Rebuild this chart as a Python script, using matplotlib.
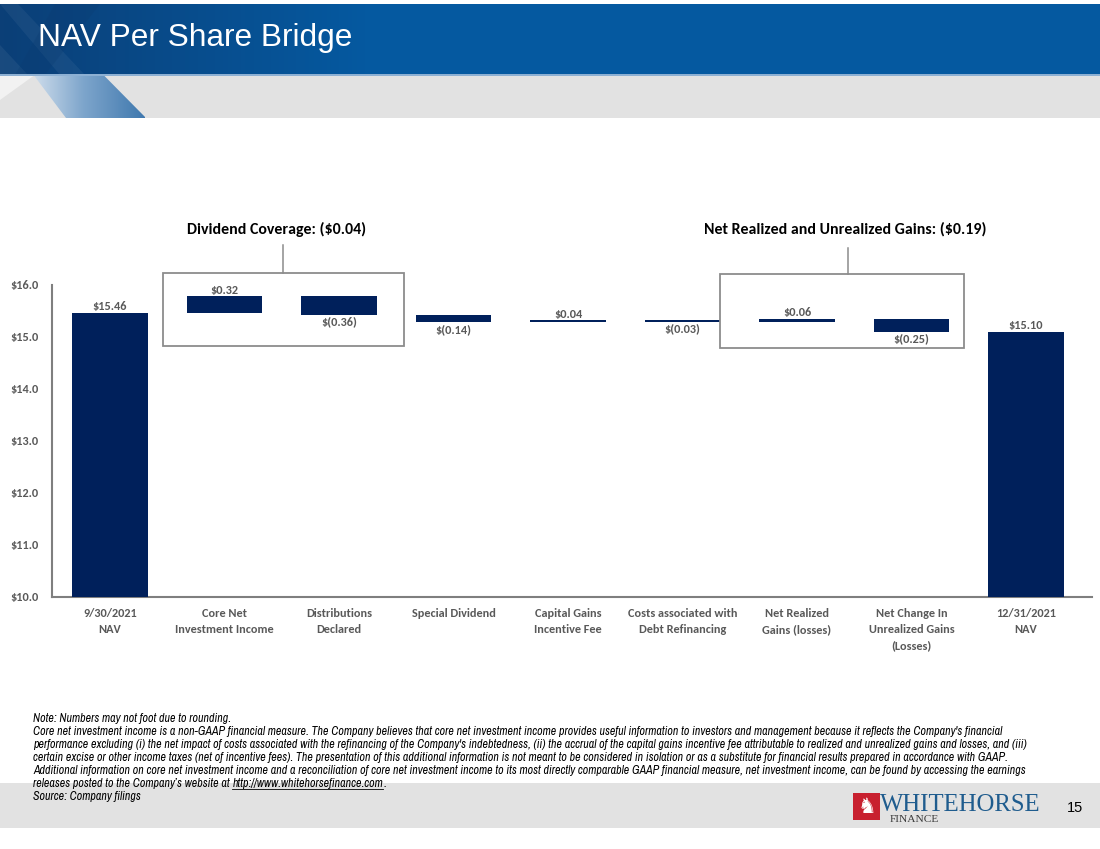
import matplotlib
matplotlib.use("Agg")
import matplotlib.pyplot as plt
from matplotlib.patches import Rectangle, Polygon
from matplotlib.colors import LinearSegmentedColormap
from matplotlib import font_manager as fm
import numpy as np
import logging
logging.getLogger("matplotlib.font_manager").setLevel(logging.ERROR)

# ---------------- data ----------------
categories = ["9/30/2021\nNAV", "Core Net\nInvestment Income", "Distributions\nDeclared",
              "Special Dividend", "Capital Gains\nIncentive Fee",
              "Costs associated with\nDebt Refinancing", "Net Realized\nGains (losses)",
              "Net Change In\nUnrealized Gains\n(Losses)", "12/31/2021\nNAV"]
start_nav = 15.46
changes = [0.32, -0.36, -0.14, 0.04, -0.03, 0.06, -0.25]
end_nav = 15.10
value_labels = ["$15.46", "$0.32", "$(0.36)", "$(0.14)", "$0.04", "$(0.03)",
                "$0.06", "$(0.25)", "$15.10"]
y_ticks = [10.0, 11.0, 12.0, 13.0, 14.0, 15.0, 16.0]
y_tick_labels = ["$10.0", "$11.0", "$12.0", "$13.0", "$14.0", "$15.0", "$16.0"]
group_titles = ["Dividend Coverage: ($0.04)", "Net Realized and Unrealized Gains: ($0.19)"]
title = "NAV Per Share Bridge"
page_number = "15"
footnote_lines = [
    "Note: Numbers may not foot due to rounding.",
    "Core net investment income is a non-GAAP financial measure. The Company believes that core net investment income provides useful information to investors and management because it reflects the Company's financial",
    "performance excluding (i) the net impact of costs associated with the refinancing of the Company's indebtedness, (ii) the accrual of the capital gains incentive fee attributable to realized and unrealized gains and losses, and (iii)",
    "certain excise or other income taxes (net of incentive fees). The presentation of this additional information is not meant to be considered in isolation or as a substitute for financial results prepared in accordance with GAAP.",
    "Additional information on core net investment income and a reconciliation of core net investment income to its most directly comparable GAAP financial measure, net investment income, can be found by accessing the earnings",
    "releases posted to the Company\u2019s website at ",
    "Source: Company filings",
]
url_text = "http://www.whitehorsefinance.com"

NAVY = "#00205B"
GRAY_TXT = "#595959"

available = {f.name for f in fm.fontManager.ttflist}
def pick(*names):
    fams = [n for n in names if n in available]
    return fams + ["DejaVu Sans"]

CAL = pick("Carlito", "Calibri", "PT Sans Narrow", "Liberation Sans Narrow", "Liberation Sans")
NARROW_IT = pick("Liberation Sans Narrow", "Arial Narrow", "Archivo Narrow", "Liberation Sans")
SANS = pick("Liberation Sans", "Arimo")
SERIF = pick("Liberation Serif", "Tinos", "DejaVu Serif")

W, H = 1100, 849
fig = plt.figure(figsize=(W / 100, H / 100), dpi=100)

# ---------------- decoration layer (pixel coords) ----------------
bg = fig.add_axes([0, 0, 1, 1], zorder=0)
bg.set_xlim(0, W)
bg.set_ylim(H, 0)
bg.axis("off")

grad = np.linspace(0, 1, 256).reshape(1, -1)
hdr_cmap = LinearSegmentedColormap.from_list("hdr", ["#0B3F77", "#0559A0", "#0559A0", "#0559A0"])
bg.imshow(grad, extent=[0, W, 75, 4], cmap=hdr_cmap, aspect="auto", zorder=1)
bg.add_patch(Polygon([(0, 4), (18, 4), (85, 75), (60, 75)], closed=True,
                     facecolor="white", alpha=0.05, edgecolor="none", zorder=2))
bg.add_patch(Polygon([(0, 45), (0, 75), (28, 75)], closed=True,
                     facecolor="white", alpha=0.06, edgecolor="none", zorder=2))
bg.add_patch(Polygon([(55, 4), (100, 4), (45, 75), (15, 75)], closed=True,
                     facecolor="#0A3A70", alpha=0.25, edgecolor="none", zorder=2))
bg.add_patch(Rectangle((0, 74), W, 1.5, facecolor="#8DB0D3", edgecolor="none", zorder=3))
bg.add_patch(Rectangle((0, 75.5), W, 42.5, facecolor="#E2E2E2", edgecolor="none", zorder=1))
bg.add_patch(Polygon([(0, 75.5), (34, 75.5), (0, 100)], closed=True,
                     facecolor="#F2F2F2", edgecolor="none", zorder=2))
tri_cmap = LinearSegmentedColormap.from_list("tri", ["#E4ECF4", "#7FA6CC", "#3F78AE"])
im = bg.imshow(grad, extent=[20, 145, 118, 75.5], cmap=tri_cmap, aspect="auto", zorder=2)
clip = Polygon([(34, 75.5), (104, 75.5), (146, 118), (66, 118)], closed=True,
               facecolor="none", edgecolor="none", transform=bg.transData)
bg.add_patch(clip)
im.set_clip_path(clip)

bg.text(38, 38, title, color="white", fontsize=22.8, family=SANS, va="center", ha="left", zorder=5)

# footer band
bg.add_patch(Rectangle((0, 783), W, 45, facecolor="#E2E2E2", edgecolor="none", zorder=1))
fn_size = 7.35 if NARROW_IT[0] in ("Liberation Sans", "Arimo") else 8.6
fn_y0, fn_dy = 718, 13.1
fn_texts = []
for i, line in enumerate(footnote_lines):
    t = bg.text(33, fn_y0 + i * fn_dy, line, fontsize=fn_size, style="italic", family=NARROW_IT,
                color="black", va="center", ha="left", zorder=5)
    fn_texts.append(t)

# logo
bg.add_patch(Rectangle((853, 793), 27, 27, facecolor="#C8202F", edgecolor="none", zorder=4))
bg.text(866.5, 807, "\u265E", color="white", fontsize=15, ha="center", va="center",
        family=["DejaVu Sans"], zorder=5)
bg.text(880, 811, "WHITEHORSE", color="#1F5C8E", fontsize=17.8, ha="left", va="baseline",
        family=SERIF, zorder=5)
bg.text(890, 822, "FINANCE", color="#3A3A3A", fontsize=8.2, ha="left", va="baseline",
        family=SERIF, zorder=5)
bg.text(1075, 808, page_number, color="black", fontsize=10.5, ha="center", va="center",
        family=SANS, zorder=5)

# ---------------- chart ----------------
x0_px, x1_px, ytop_px, ybot_px = 52, 1092, 285, 597
ax = fig.add_axes([x0_px / W, 1 - ybot_px / H, (x1_px - x0_px) / W, (ybot_px - ytop_px) / H], zorder=2)
ax.patch.set_alpha(0)

n = len(categories)
x = np.arange(n)
slot = 114.5
xlim_left = -((110 - x0_px) / slot)
xlim_right = xlim_left + (x1_px - x0_px) / slot
ax.set_xlim(xlim_left, xlim_right)
ax.set_ylim(10, 16)

cum = start_nav
bottoms, heights = [0.0], [start_nav]
for c in changes:
    new = cum + c
    bottoms.append(min(cum, new))
    heights.append(abs(c))
    cum = new
bottoms.append(0.0)
heights.append(end_nav)
min_h = 0.035
draw_h = [max(h, min_h) for h in heights]
draw_b = [b if h >= min_h else b - (min_h - h) / 2 for b, h in zip(bottoms, heights)]
ax.bar(x, draw_h, bottom=draw_b, width=0.66, color=NAVY, zorder=3)

LBL = 8.8
signs = [1] + [1 if c >= 0 else -1 for c in changes] + [1]
for i in range(n):
    if signs[i] > 0:
        ax.annotate(value_labels[i], (x[i], draw_b[i] + draw_h[i]), xytext=(0, 0.5),
                    textcoords="offset points", ha="center", va="bottom",
                    fontsize=LBL, fontweight="bold", color=GRAY_TXT, family=CAL)
    else:
        ax.annotate(value_labels[i], (x[i], draw_b[i]), xytext=(0, -1),
                    textcoords="offset points", ha="center", va="top",
                    fontsize=LBL, fontweight="bold", color=GRAY_TXT, family=CAL)

ax.set_yticks(y_ticks)
ax.set_yticklabels(y_tick_labels)
ax.set_xticks(x)
ax.set_xticklabels(categories)
ax.tick_params(axis="both", length=0, colors=GRAY_TXT)
ax.tick_params(axis="y", pad=10)
ax.tick_params(axis="x", pad=8)
for lab in ax.get_yticklabels() + ax.get_xticklabels():
    lab.set_fontweight("bold")
    lab.set_family(CAL)
    lab.set_fontsize(LBL)
    lab.set_color(GRAY_TXT)
for lab in ax.get_xticklabels():
    lab.set_linespacing(1.55)
for s in ["top", "right"]:
    ax.spines[s].set_visible(False)
for s in ["left", "bottom"]:
    ax.spines[s].set_color("#7F7F7F")
    ax.spines[s].set_linewidth(1.5)

def px_to_y(py):
    return 16 - (py - ytop_px) / 52.0

def px_to_x(px):
    return (px - 110) / slot

boxes = [(163, 404, 273, 346, 283, 245, 277), (720, 964, 274, 348, 848, 248, 845)]
for (bx0, bx1, by0, by1, cx, cy, tx), gt in zip(boxes, group_titles):
    ax.add_patch(Rectangle((px_to_x(bx0), px_to_y(by1)), px_to_x(bx1) - px_to_x(bx0),
                           px_to_y(by0) - px_to_y(by1), facecolor="none",
                           edgecolor="#8C8C8C", lw=1.3, clip_on=False, zorder=4))
    ax.plot([px_to_x(cx), px_to_x(cx)], [px_to_y(by0), px_to_y(cy)], color="#8C8C8C",
            lw=1.1, clip_on=False, zorder=4)
    ax.text(px_to_x(tx), px_to_y(229), gt, ha="center", va="center", fontsize=11.4,
            fontweight="bold", color="black", family=CAL)

# url with underline placed after the prefix text
fig.canvas.draw()
r = fig.canvas.get_renderer()
inv = bg.transData.inverted()
bb = fn_texts[5].get_window_extent(r)
xe = inv.transform((bb.x1, bb.y0))[0]
ut = bg.text(xe, fn_y0 + 5 * fn_dy, url_text, fontsize=fn_size, style="italic", family=NARROW_IT,
             color="black", va="center", ha="left", zorder=5)
fig.canvas.draw()
ub = ut.get_window_extent(r)
ux0, uy0 = inv.transform((ub.x0, ub.y0))
ux1 = inv.transform((ub.x1, ub.y0))[0]
bg.plot([ux0, ux1], [uy0 - 0.5, uy0 - 0.5], color="black", lw=0.6, zorder=5)
bg.text(ux1, fn_y0 + 5 * fn_dy, ".", fontsize=fn_size, style="italic", family=NARROW_IT,
        color="black", va="center", ha="left", zorder=5)

fig.savefig("out.png", dpi=100)
